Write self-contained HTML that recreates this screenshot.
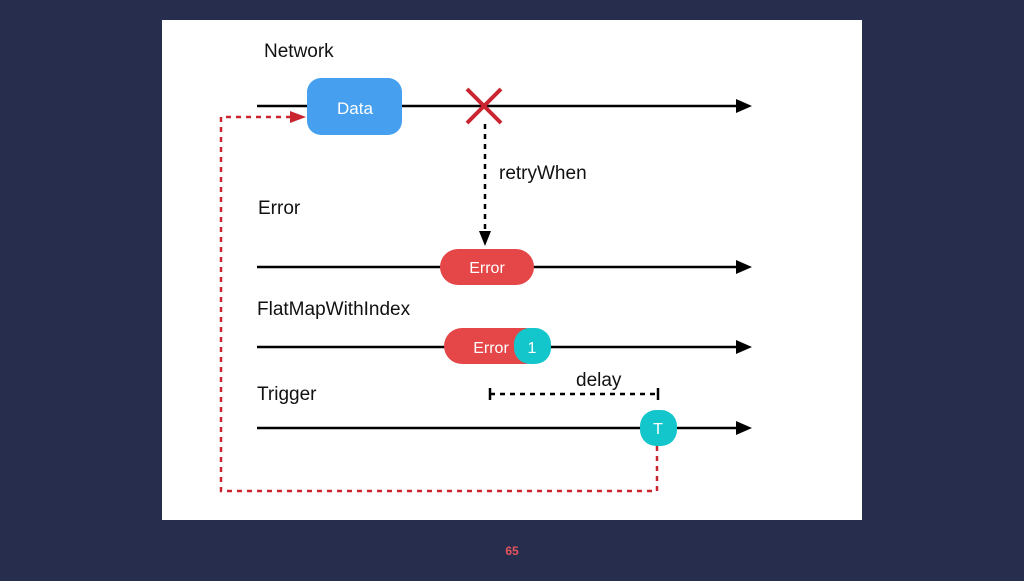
<!DOCTYPE html>
<html><head><meta charset="utf-8"><style>
body{margin:0;background:#272e4d;width:1024px;height:576px;overflow:hidden}
</style></head><body>
<svg width="1024" height="576" xmlns="http://www.w3.org/2000/svg" font-family="Liberation Sans, sans-serif">
<rect x="0" y="0" width="1024" height="576" fill="#272e4d"/>
<rect x="162" y="20" width="700" height="500" fill="#fff"/>
<defs>
<marker id="a" markerWidth="10" markerHeight="10" refX="9" refY="5" orient="auto" markerUnits="userSpaceOnUse"><path d="M0,0 L10,5 L0,10z" fill="#000"/></marker>
</defs>
<g stroke="#000" stroke-width="2.5">
<line x1="257" y1="106" x2="738" y2="106"/>
<line x1="257" y1="267" x2="738" y2="267"/>
<line x1="257" y1="347" x2="738" y2="347"/>
<line x1="257" y1="428" x2="738" y2="428"/>
</g>
<g fill="#000">
<path d="M736,99 L752,106 L736,113z"/>
<path d="M736,260 L752,267 L736,274z"/>
<path d="M736,340 L752,347 L736,354z"/>
<path d="M736,421 L752,428 L736,435z"/>
</g>
<g font-size="19" fill="#111">
<text x="264" y="57">Network</text>
<text x="258" y="214">Error</text>
<text x="257" y="315">FlatMapWithIndex</text>
<text x="257" y="400">Trigger</text>
<text x="499" y="179">retryWhen</text>
<text x="576" y="386">delay</text>
</g>
<rect x="307" y="78" width="95" height="57" rx="14" fill="#46a0ef"/>
<text x="355" y="114" font-size="17" fill="#fff" text-anchor="middle">Data</text>
<g stroke="#c9242f" stroke-width="4"><line x1="467" y1="89" x2="501" y2="123"/><line x1="501" y1="89" x2="467" y2="123"/></g>
<line x1="485" y1="124" x2="485" y2="232" stroke="#000" stroke-width="2.5" stroke-dasharray="5,5"/>
<path d="M479,231 L491,231 L485,246z" fill="#000"/>
<rect x="440" y="249" width="94" height="36" rx="18" fill="#e54647"/>
<text x="487" y="273" font-size="16" fill="#fff" text-anchor="middle">Error</text>
<rect x="444" y="328" width="100" height="36" rx="18" fill="#e54647"/>
<text x="491" y="353" font-size="16" fill="#fff" text-anchor="middle">Error</text>
<rect x="514" y="328" width="37" height="36" rx="16" fill="#13c6cc"/>
<text x="532" y="353" font-size="16" fill="#fff" text-anchor="middle">1</text>
<line x1="490" y1="394" x2="658" y2="394" stroke="#000" stroke-width="2.5" stroke-dasharray="5,5"/>
<line x1="490" y1="388" x2="490" y2="400" stroke="#000" stroke-width="2.5"/>
<line x1="658" y1="388" x2="658" y2="400" stroke="#000" stroke-width="2.5"/>
<rect x="640" y="410" width="37" height="36" rx="16" fill="#13c6cc"/>
<text x="658" y="434" font-size="16" fill="#fff" text-anchor="middle">T</text>
<path d="M657,446 L657,491 L221,491 L221,117 L292,117" fill="none" stroke="#c9242f" stroke-width="2.5" stroke-dasharray="5,5"/>
<path d="M290,111 L306,117 L290,123z" fill="#c9242f"/>
<text x="512" y="555" font-size="12" fill="#e4555a" text-anchor="middle" font-weight="bold">65</text>
</svg>
</body></html>
